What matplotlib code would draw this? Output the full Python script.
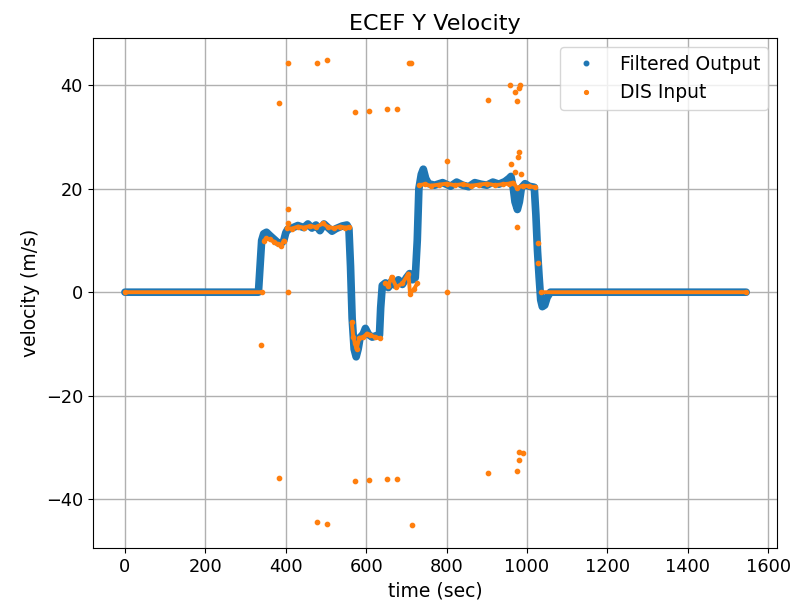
import numpy as np
import matplotlib
matplotlib.use("Agg")
import matplotlib.pyplot as plt
from matplotlib.lines import Line2D

# filtered output (key points of the trace, seconds / m/s)
filt_t = [0, 332, 336, 340, 345, 352, 360, 370, 380, 388, 395, 400, 405, 415, 430,
          445, 455, 465, 475, 485, 495, 505, 515, 525, 540, 552, 557, 561, 565, 570,
          575, 580, 585, 592, 598, 606, 615, 625, 633, 636, 640, 648, 655, 662, 670,
          680, 690, 700, 708, 715, 722, 727, 731, 737, 742, 748, 755, 770, 790, 810,
          825, 840, 855, 870, 885, 900, 915, 930, 945, 955, 960, 966, 970, 976, 981,
          986, 995, 1005, 1018, 1022, 1026, 1030, 1034, 1038, 1044, 1050, 1058, 1545]
filt_v = [0, 0, 5, 10, 11.3, 11.6, 11.0, 10.3, 9.6, 9.4, 10.0, 11.5, 12.2, 12.4, 12.9,
          12.5, 13.2, 12.4, 13.0, 11.9, 13.2, 12.5, 11.8, 12.3, 12.8, 13.0, 12.3, 5, -5, -11,
          -12.5, -11.0, -8.7, -8.2, -7.0, -8.2, -8.7, -8.4, -8.3, -3, 1.3, 1.8, 0.9, 2.0, 1.4,
          2.4, 1.5, 2.8, 3.6, 2.4, 2.8, 10, 20, 22.8, 23.8, 22.0, 21.0, 20.7, 21.2, 20.5,
          21.3, 20.7, 20.4, 21.2, 20.9, 20.7, 21.3, 20.9, 21.4, 22.0, 22.4, 20.0, 17.5, 16.0, 17.5,
          20.2, 21.0, 20.5, 20.3, 15, 8, 3, -1.5, -2.8, -2.5, -1.0, 0, 0]

# DIS input, main track (nan = break at a jump)
dis_t = [0, 340, np.nan, 346, 352, 360, 370, 380, 388, 395, np.nan,
         402, 415, 430, 445, 460, 475, 493, 505, 520, 535, 548, 557, np.nan,
         564, 568, 572, 576, 583, 593, 602, 610, 622, 634, np.nan,
         647, 655, 663, 675, 690, 705, 709, 719, 727, np.nan,
         732, 745, 760, 780, 800, 820, 840, 860, 880, 900, 920, 940, 955, 965,
         975, 990, 1005, 1020, np.nan,
         1035, 1545]
dis_v = [0, 0, np.nan, 10.0, 10.4, 10.2, 9.8, 9.3, 9.0, 10.0, np.nan,
         12.4, 12.3, 12.7, 12.5, 12.8, 12.6, 13.3, 12.6, 12.4, 12.7, 12.5, 12.6, np.nan,
         -5.8, -8.7, -9.9, -11.0, -8.8, -8.7, -8.0, -8.3, -8.7, -8.9, np.nan,
         1.7, 1.2, 3.0, 1.0, 1.7, 3.6, -0.3, 0.6, 1.7, np.nan,
         20.7, 20.9, 20.6, 20.8, 21.0, 20.7, 20.9, 20.6, 20.8, 21.0, 20.7, 20.9, 21.0, 21.2,
         20.2, 20.6, 20.5, 20.3, np.nan,
         0, 0]

# DIS input, isolated samples and outliers
spk_t = [338, 384, 384, 405, 405, 405, 405, 477, 477, 502, 502, 571, 571, 608, 608,
         651, 651, 676, 676, 707, 712, 713, 800, 800, 902, 902, 958, 983, 979, 970,
         975, 975, 979, 981, 989, 975, 980, 978, 960, 970, 985, 1027, 1028]
spk_v = [-10.2, 36.6, -35.9, 44.3, 16.0, 13.3, 0.0, 44.3, -44.5, 44.9, -44.8, 34.9, -36.5, 35.0, -36.4,
         35.5, -36.2, 35.5, -36.2, 44.3, 44.3, -45.0, 25.4, 0.0, 37.1, -34.9, 40.0, 40.0, 39.5, 38.7,
         36.9, -34.6, -32.4, -30.9, -31.1, 12.7, 27.2, 26.2, 24.8, 23.3, 22.9, 9.6, 5.6]

blue = "#1f77b4"
orange = "#ff7f0e"

plt.rcParams["font.size"] = 13.5
plt.rcParams["xtick.labelsize"] = 12.8
plt.rcParams["ytick.labelsize"] = 12.8

fig = plt.figure(figsize=(7.93, 6.11), dpi=100)
ax = fig.add_axes([0.117, 0.103, 0.863, 0.835])

ax.plot(filt_t, filt_v, color=blue, lw=5.5, solid_capstyle="round", solid_joinstyle="round")
ax.plot(dis_t, dis_v, color=orange, lw=2.8, marker="o", ms=3.0,
        solid_capstyle="round", solid_joinstyle="round")
ax.plot(spk_t, spk_v, ls="none", marker="o", ms=3.1, color=orange)

ax.set_xlim(-80, 1622)
ax.set_ylim(-49.5, 49.2)
ax.set_xticks(np.arange(0, 1601, 200))
ax.set_yticks([-40, -20, 0, 20, 40])
ax.grid(True, color="#b0b0b0", lw=1.0)
ax.set_axisbelow(True)

ax.set_title("ECEF Y Velocity", fontsize=16)
ax.set_xlabel("time (sec)")
ax.set_ylabel("velocity (m/s)")

handles = [Line2D([], [], ls="none", marker=".", ms=6.5, color=blue),
           Line2D([], [], ls="none", marker=".", ms=5.5, color=orange)]
ax.legend(handles, ["Filtered Output", "DIS Input"], loc="upper right")

fig.savefig("out.png", dpi=100)
